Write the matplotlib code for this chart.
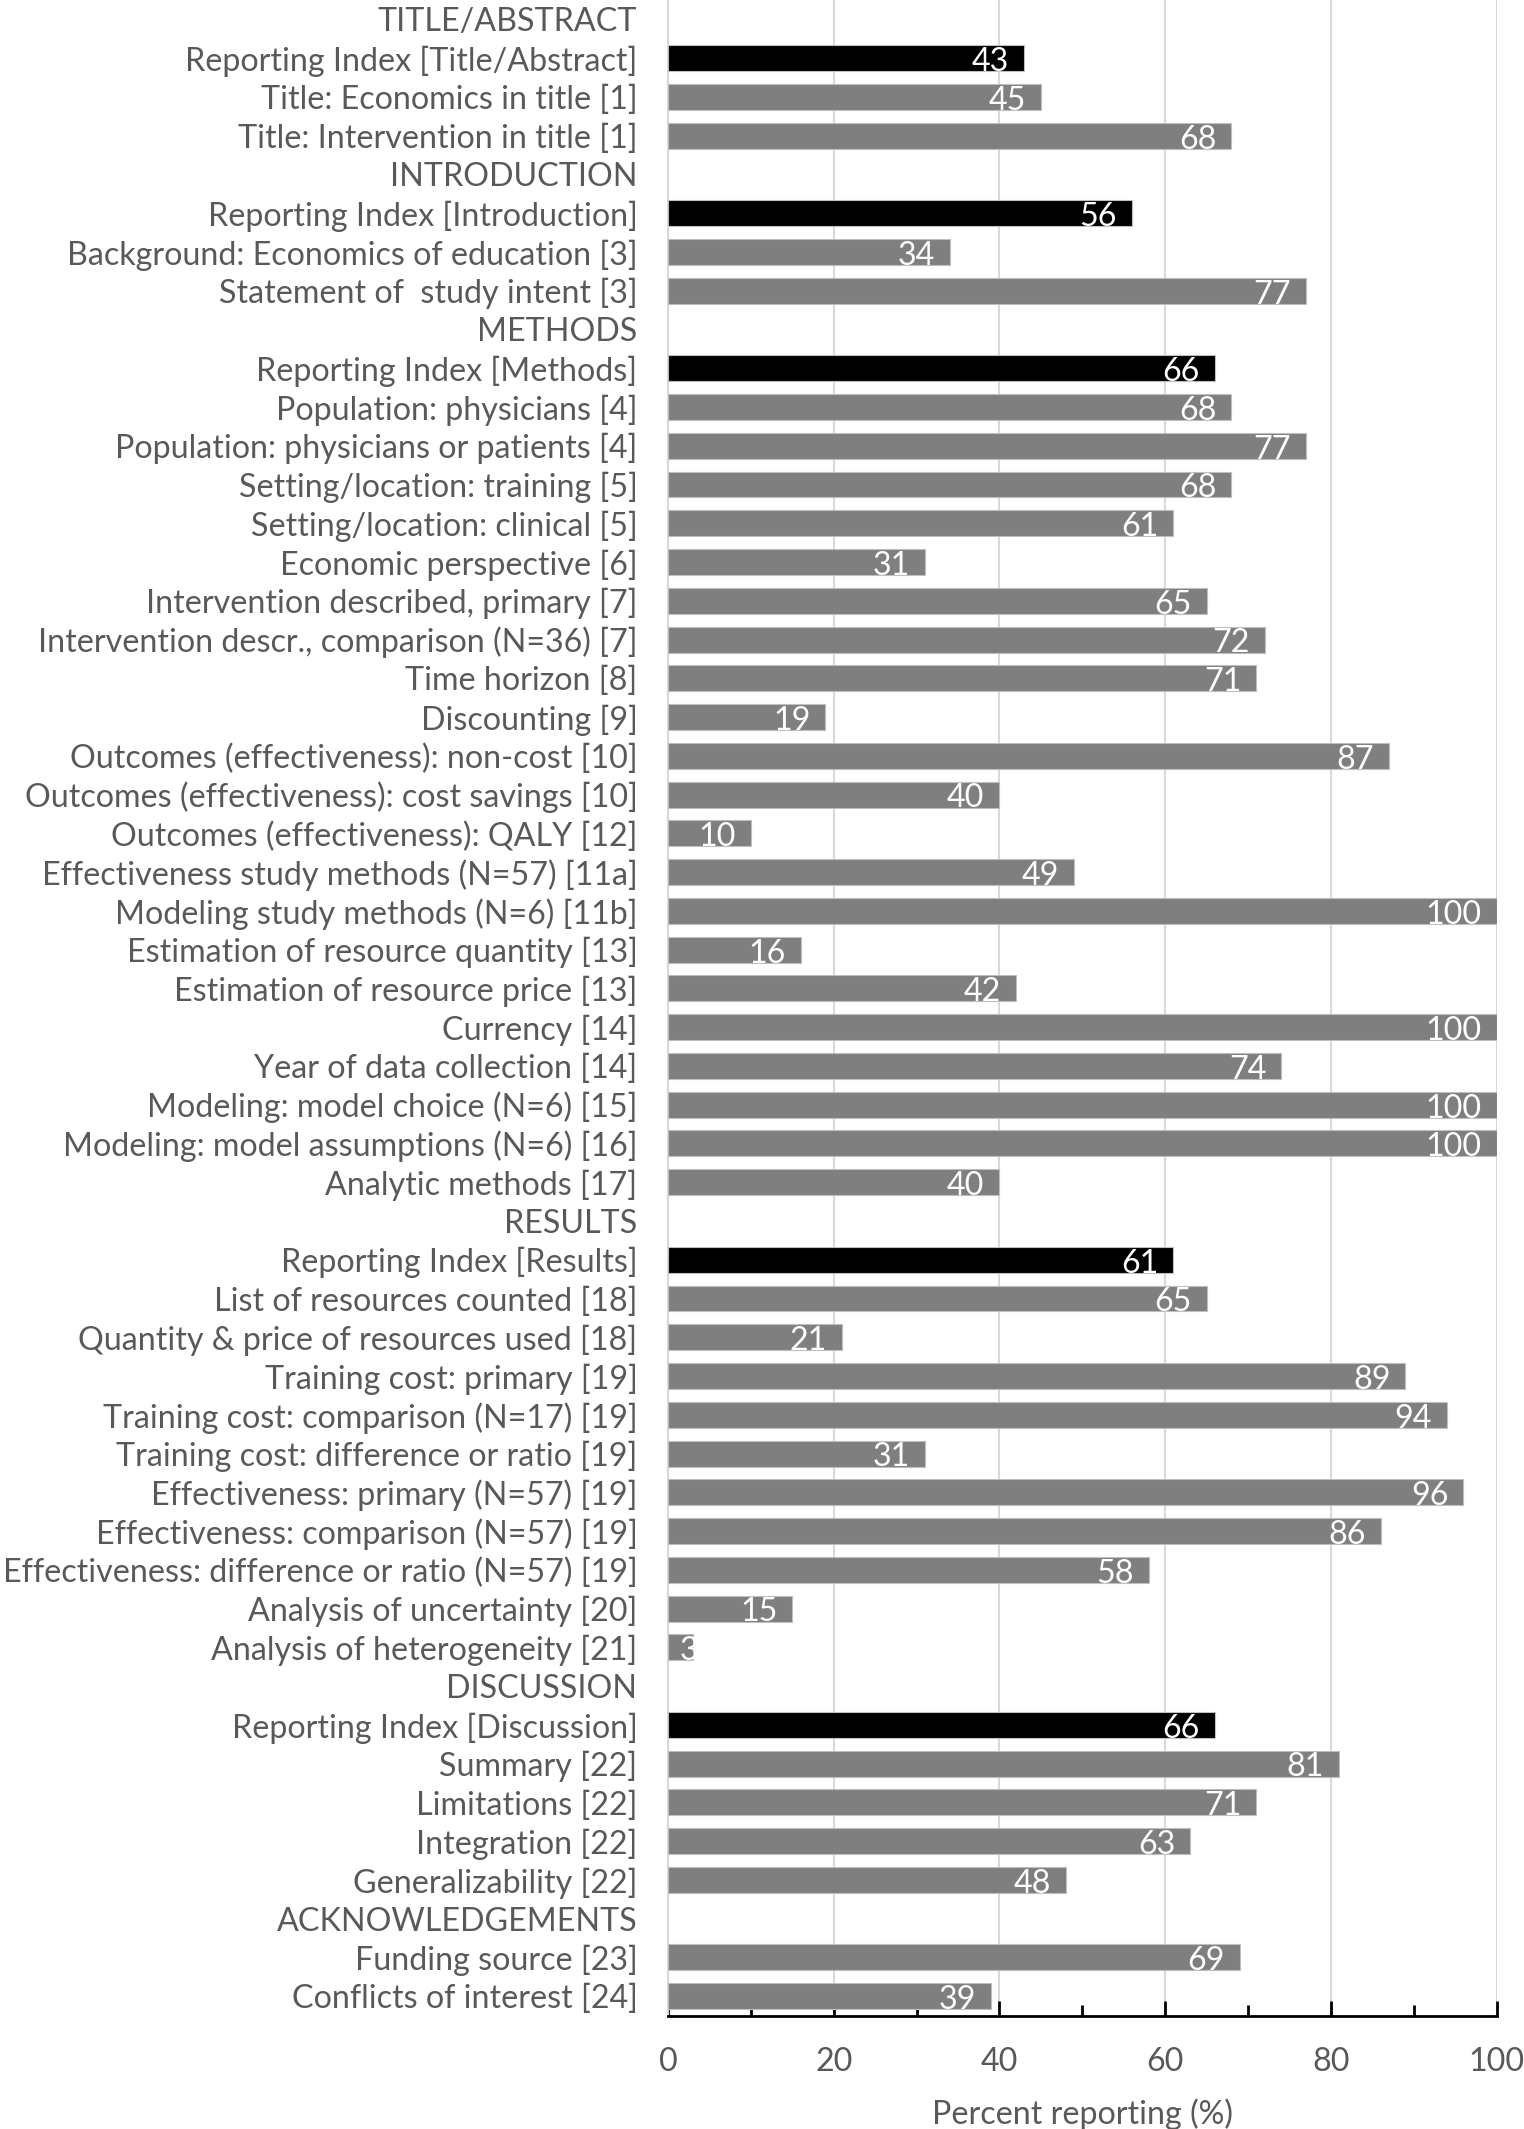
import matplotlib
matplotlib.use('Agg')
import matplotlib.pyplot as plt
from matplotlib import font_manager
from matplotlib.ticker import MultipleLocator
import numpy as np

# rows from top to bottom; None = section header (no bar)
LABELS = [
    "TITLE/ABSTRACT",
    "Reporting Index [Title/Abstract]",
    "Title: Economics in title [1]",
    "Title: Intervention in title [1]",
    "INTRODUCTION",
    "Reporting Index [Introduction]",
    "Background: Economics of education [3]",
    "Statement of  study intent [3]",
    "METHODS",
    "Reporting Index [Methods]",
    "Population: physicians [4]",
    "Population: physicians or patients [4]",
    "Setting/location: training [5]",
    "Setting/location: clinical [5]",
    "Economic perspective [6]",
    "Intervention described, primary [7]",
    "Intervention descr., comparison (N=36) [7]",
    "Time horizon [8]",
    "Discounting [9]",
    "Outcomes (effectiveness): non-cost [10]",
    "Outcomes (effectiveness): cost savings [10]",
    "Outcomes (effectiveness): QALY [12]",
    "Effectiveness study methods (N=57) [11a]",
    "Modeling study methods (N=6) [11b]",
    "Estimation of resource quantity [13]",
    "Estimation of resource price [13]",
    "Currency [14]",
    "Year of data collection [14]",
    "Modeling: model choice (N=6) [15]",
    "Modeling: model assumptions (N=6) [16]",
    "Analytic methods [17]",
    "RESULTS",
    "Reporting Index [Results]",
    "List of resources counted [18]",
    "Quantity & price of resources used [18]",
    "Training cost: primary [19]",
    "Training cost: comparison (N=17) [19]",
    "Training cost: difference or ratio [19]",
    "Effectiveness: primary (N=57) [19]",
    "Effectiveness: comparison (N=57) [19]",
    "Effectiveness: difference or ratio (N=57) [19]",
    "Analysis of uncertainty [20]",
    "Analysis of heterogeneity [21]",
    "DISCUSSION",
    "Reporting Index [Discussion]",
    "Summary [22]",
    "Limitations [22]",
    "Integration [22]",
    "Generalizability [22]",
    "ACKNOWLEDGEMENTS",
    "Funding source [23]",
    "Conflicts of interest [24]",
]

VALUES = [
    None, 43, 45, 68,
    None, 56, 34, 77,
    None, 66, 68, 77, 68, 61, 31, 65, 72, 71, 19, 87, 40, 10, 49, 100,
    16, 42, 100, 74, 100, 100, 40,
    None, 61, 65, 21, 89, 94, 31, 96, 86, 58, 15, 3,
    None, 66, 81, 71, 63, 48,
    None, 69, 39,
]

GREY = "#7f7f7f"
BLACK = "#000000"
TEXT = "#595959"

names = {f.name for f in font_manager.fontManager.ttflist}
FONT = "Liberation Sans Narrow" if "Liberation Sans Narrow" in names else "Lato"
FS = 25 if FONT == "Liberation Sans Narrow" else 23.2
plt.rcParams['font.family'] = [FONT, 'DejaVu Sans']

fig = plt.figure(figsize=(15.24, 21.29), dpi=100)
ax = fig.add_axes([0.4383, 0.0531, 0.982 - 0.4383, 1 - 0.0531])

ys = np.arange(len(LABELS))
for y, lab, v in zip(ys, LABELS, VALUES):
    if v is None:
        continue
    colour = BLACK if lab.startswith("Reporting Index") else GREY
    bar = ax.barh(y, v, height=0.67, color=colour, edgecolor="#bfbfbf",
                  linewidth=0.8, zorder=3)
    # tiny bars: label sits at the bar end and is cut off by it (as in Excel)
    xpos = v - 1.8 if v >= 5 else v + 0.6
    t = ax.text(xpos, y + 0.1, str(v), ha="right", va="center",
                color="white", fontsize=FS, zorder=4)
    t.set_clip_path(bar.patches[0])

ax.set_yticks(ys)
ax.set_yticklabels(LABELS, fontsize=FS, color=TEXT)
ax.tick_params(axis="y", length=0, pad=22)
ax.set_ylim(len(LABELS) - 0.49, -0.5)

ax.set_xlim(0, 100)
ax.xaxis.set_major_locator(MultipleLocator(20))
ax.xaxis.set_minor_locator(MultipleLocator(10))
ax.tick_params(axis="x", which="major", direction="in", length=11, width=2,
               color="black", labelsize=FS, labelcolor=TEXT, pad=22)
ax.tick_params(axis="x", which="minor", direction="in", length=8, width=2,
               color="black")
ax.xaxis.grid(True, which="major", color="#d9d9d9", lw=1.5, zorder=0)
ax.set_xlabel("Percent reporting (%)", fontsize=FS, color=TEXT, labelpad=16)

for s in ("top", "right"):
    ax.spines[s].set_visible(False)
ax.spines["left"].set_color("#d9d9d9")
ax.spines["left"].set_linewidth(1.5)
ax.spines["bottom"].set_color("black")
ax.spines["bottom"].set_linewidth(2)

fig.savefig("out.png", dpi=100)
